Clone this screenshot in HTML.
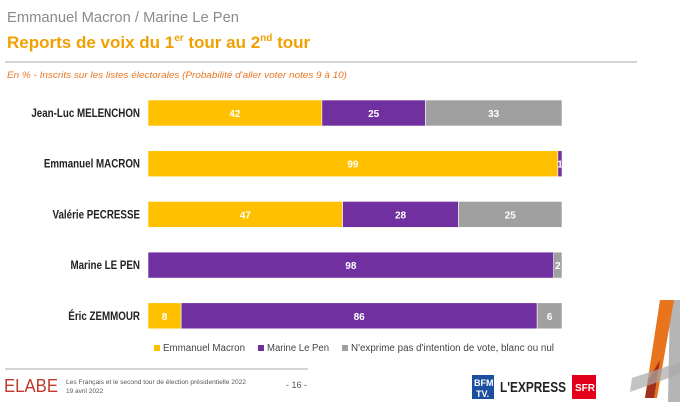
<!DOCTYPE html>
<html><head><meta charset="utf-8"><style>
html,body{margin:0;padding:0;background:#fff;}
body{width:680px;height:402px;overflow:hidden;position:relative;font-family:"Liberation Sans",sans-serif;}
svg text{font-family:"Liberation Sans",sans-serif;}
</style></head><body>
<svg id="chart" width="680" height="402" viewBox="0 0 680 402" xmlns="http://www.w3.org/2000/svg">
<text x="7" y="22" font-size="15" fill="#8a8a8a" textLength="232" lengthAdjust="spacingAndGlyphs">Emmanuel Macron / Marine Le Pen</text>
<text x="7" y="48" font-size="17" font-weight="bold" fill="#f0a000">Reports de voix du 1<tspan font-size="10" dy="-7">er</tspan><tspan dy="7"> tour au 2</tspan><tspan font-size="10" dy="-7">nd</tspan><tspan dy="7"> tour</tspan></text>
<line x1="5" y1="62" x2="637" y2="62" stroke="#aaa" stroke-width="1"/>
<text x="7" y="78" font-size="9" font-style="italic" fill="#e87722" textLength="340" lengthAdjust="spacingAndGlyphs">En % - Inscrits sur les listes électorales (Probabilité d'aller voter notes 9 à 10)</text>
<g id="bars"></g>
<g font-size="10" fill="#444">
<rect x="154" y="345" width="6" height="6" fill="#ffc000"/><text x="163" y="351" textLength="82" lengthAdjust="spacingAndGlyphs">Emmanuel Macron</text>
<rect x="258" y="345" width="6" height="6" fill="#7030a0"/><text x="267" y="351" textLength="62" lengthAdjust="spacingAndGlyphs">Marine Le Pen</text>
<rect x="342" y="345" width="6" height="6" fill="#a0a0a0"/><text x="351" y="351" textLength="203" lengthAdjust="spacingAndGlyphs">N'exprime pas d'intention de vote, blanc ou nul</text>
</g>
<line x1="5" y1="369" x2="308" y2="369" stroke="#aaa"/>
<text x="4" y="392" font-size="18" fill="#c0392b" textLength="54" lengthAdjust="spacingAndGlyphs">ELABE</text>
<text x="66" y="384" font-size="6.5" fill="#555" textLength="180" lengthAdjust="spacingAndGlyphs">Les Français et le second tour de élection présidentielle 2022</text>
<text x="66" y="393" font-size="6.5" fill="#555">19 avril 2022</text>
<text x="286" y="388" font-size="9" fill="#555">- 16 -</text>
<rect x="472" y="375" width="22" height="24" fill="#1d4fa0"/>
<text x="474" y="386" font-size="9" font-weight="bold" fill="#fff">BFM</text>
<text x="476" y="397" font-size="9" font-weight="bold" fill="#fff">TV.</text>
<text x="500" y="392" font-size="15" font-weight="bold" fill="#222" textLength="66" lengthAdjust="spacingAndGlyphs">L'EXPRESS</text>
<rect x="572" y="375" width="24" height="24" fill="#e2001a"/>
<text x="575" y="391" font-size="10" font-weight="bold" fill="#fff">SFR</text>
<polygon points="670,300 680,300 680,402 668,402" fill="#b5b5b5"/>
<polygon points="660,300 674,300 657,398 645,398" fill="#e8741e"/>
<polygon points="648,380 660,360 654,398 645,398" fill="#a0301a"/>
<polygon points="632,378 680,362 680,374 630,392" fill="#aaa" opacity="0.7"/>
</svg>
<script>
const candidates = ["Jean-Luc MELENCHON","Emmanuel MACRON","Valérie PECRESSE","Marine LE PEN","Éric ZEMMOUR"];
const macronVals = [42,99,47,0,8];
const lepenVals = [25,1,28,98,86];
const noneVals = [33,0,25,2,6];
const seriesColors = ["#ffc000","#7030a0","#a0a0a0"];
const seriesNames = ["macron","lepen","none"];

const X0=148, X1=562, Y0=100, STEP=50.7, BH=26;
function xScale(v){return X0 + v/100*(X1-X0);}
function yRow(i){return Y0 + i*STEP;}
const g=document.getElementById('bars');
const NS="http://www.w3.org/2000/svg";
candidates.forEach((c,i)=>{
  const y=yRow(i);
  const lab=document.createElementNS(NS,'text');
  
  
  lab.setAttribute('x',140);lab.setAttribute('y',y+BH/2+4);
  lab.setAttribute('text-anchor','end');lab.setAttribute('font-size','11.5');
  lab.setAttribute('font-weight','bold');lab.setAttribute('fill','#222');
  lab.textContent=c;g.appendChild(lab);
  const w=lab.getComputedTextLength();
  lab.setAttribute('textLength',w*0.85);
  lab.setAttribute('lengthAdjust','spacingAndGlyphs');
  const vals=[macronVals[i],lepenVals[i],noneVals[i]];
  let cum=0;
  vals.forEach((v,s)=>{
    if(v<=0)return;
    const xa=xScale(cum), xb=xScale(cum+v);
    const r=document.createElementNS(NS,'rect');
    
    
    r.setAttribute('x',xa);r.setAttribute('y',y);
    r.setAttribute('width',xb-xa);r.setAttribute('height',BH);
    r.setAttribute('fill',seriesColors[s]);
    r.setAttribute('stroke','#fff');r.setAttribute('stroke-width','0.6');
    g.appendChild(r);
    const t=document.createElementNS(NS,'text');
    
    
    t.setAttribute('x',(xa+xb)/2);t.setAttribute('y',y+BH/2+4);
    t.setAttribute('text-anchor','middle');t.setAttribute('font-size','10');
    t.setAttribute('font-weight','bold');t.setAttribute('fill','#fff');
    t.textContent=v;g.appendChild(t);
    cum+=v;
  });
});
</script>
</body></html>
